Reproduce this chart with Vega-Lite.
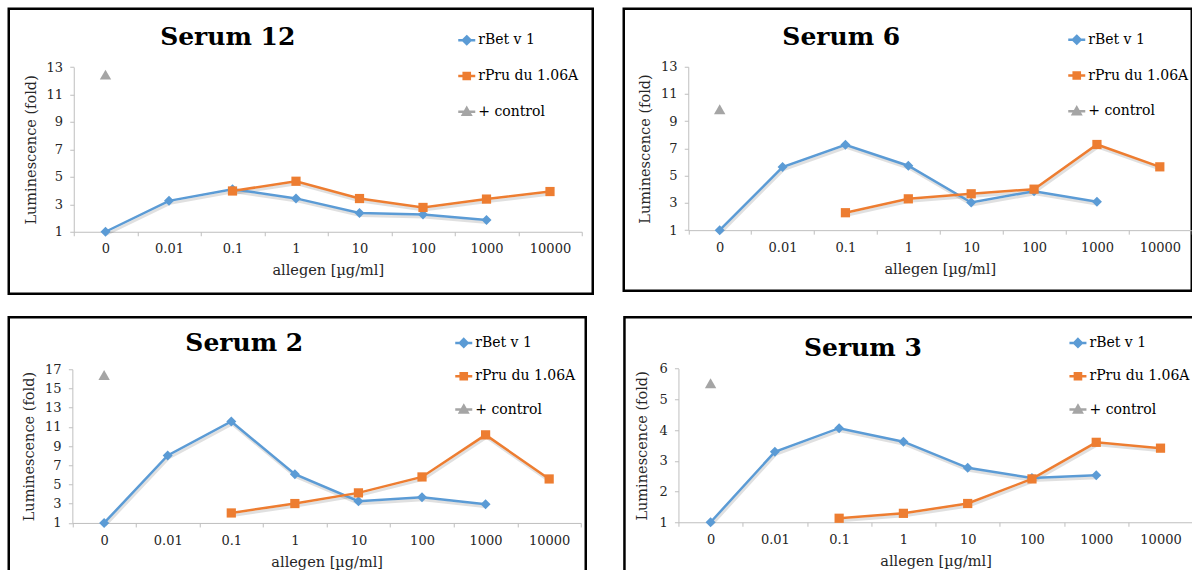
{
  "$schema": "https://vega.github.io/schema/vega-lite/v6.json",
  "background": "white",
  "padding": {"left": 6.75, "top": 6.75, "right": 0, "bottom": 0},
  "resolve": {"scale": {"color": "independent"}, "legend": {"color": "independent"}},
  "config": {
    "view": {"stroke": "#000000", "strokeWidth": 2.5},
    "font": "DejaVu Serif",
    "axis": {
      "domainColor": "#bfbfbf", "tickColor": "#bfbfbf", "domainWidth": 1, "tickWidth": 1, "tickSize": 4,
      "labelFont": "DejaVu Serif", "labelFontSize": 13, "labelColor": "#262626", "labelPadding": 7.2,
      "titleFont": "DejaVu Serif", "titleFontSize": 14.5, "titleFontWeight": "normal", "titleColor": "#262626",
      "grid": false, "labelOverlap": false, "labelBound": false, "labelFlush": false
    },
    "legend": {
      "orient": "none", "title": null, "padding": 0, "labelFont": "DejaVu Serif", "labelFontSize": 14,
      "labelColor": "#000000", "symbolSize": 289, "labelOffset": 1.5, "rowPadding": 16.8, "symbolStrokeWidth": 2.5
    },
    "title": {"font": "DejaVu Serif", "fontSize": 25, "fontWeight": "bold", "color": "#000000", "anchor": "middle", "frame": "group", "baseline": "alphabetic"}
  },
  "datasets": {
    "d": [
      {"panel": "Serum 12", "series": "rBet v 1", "conc": "0", "value": 1.0},
      {"panel": "Serum 12", "series": "rBet v 1", "conc": "0.01", "value": 3.25},
      {"panel": "Serum 12", "series": "rBet v 1", "conc": "0.1", "value": 4.1},
      {"panel": "Serum 12", "series": "rBet v 1", "conc": "1", "value": 3.43},
      {"panel": "Serum 12", "series": "rBet v 1", "conc": "10", "value": 2.36},
      {"panel": "Serum 12", "series": "rBet v 1", "conc": "100", "value": 2.26},
      {"panel": "Serum 12", "series": "rBet v 1", "conc": "1000", "value": 1.85},
      {"panel": "Serum 12", "series": "rPru du 1.06A", "conc": "0.1", "value": 3.97},
      {"panel": "Serum 12", "series": "rPru du 1.06A", "conc": "1", "value": 4.68},
      {"panel": "Serum 12", "series": "rPru du 1.06A", "conc": "10", "value": 3.42},
      {"panel": "Serum 12", "series": "rPru du 1.06A", "conc": "100", "value": 2.77},
      {"panel": "Serum 12", "series": "rPru du 1.06A", "conc": "1000", "value": 3.38},
      {"panel": "Serum 12", "series": "rPru du 1.06A", "conc": "10000", "value": 3.93},
      {"panel": "Serum 12", "series": "+ control", "conc": "0", "value": 12.45},

      {"panel": "Serum 6", "series": "rBet v 1", "conc": "0", "value": 1.0},
      {"panel": "Serum 6", "series": "rBet v 1", "conc": "0.01", "value": 5.63},
      {"panel": "Serum 6", "series": "rBet v 1", "conc": "0.1", "value": 7.27},
      {"panel": "Serum 6", "series": "rBet v 1", "conc": "1", "value": 5.73},
      {"panel": "Serum 6", "series": "rBet v 1", "conc": "10", "value": 3.03},
      {"panel": "Serum 6", "series": "rBet v 1", "conc": "100", "value": 3.86},
      {"panel": "Serum 6", "series": "rBet v 1", "conc": "1000", "value": 3.08},
      {"panel": "Serum 6", "series": "rPru du 1.06A", "conc": "0.1", "value": 2.28},
      {"panel": "Serum 6", "series": "rPru du 1.06A", "conc": "1", "value": 3.3},
      {"panel": "Serum 6", "series": "rPru du 1.06A", "conc": "10", "value": 3.67},
      {"panel": "Serum 6", "series": "rPru du 1.06A", "conc": "100", "value": 4.01},
      {"panel": "Serum 6", "series": "rPru du 1.06A", "conc": "1000", "value": 7.29},
      {"panel": "Serum 6", "series": "rPru du 1.06A", "conc": "10000", "value": 5.65},
      {"panel": "Serum 6", "series": "+ control", "conc": "0", "value": 9.88},

      {"panel": "Serum 2", "series": "rBet v 1", "conc": "0", "value": 1.0},
      {"panel": "Serum 2", "series": "rBet v 1", "conc": "0.01", "value": 8.02},
      {"panel": "Serum 2", "series": "rBet v 1", "conc": "0.1", "value": 11.56},
      {"panel": "Serum 2", "series": "rBet v 1", "conc": "1", "value": 6.07},
      {"panel": "Serum 2", "series": "rBet v 1", "conc": "10", "value": 3.26},
      {"panel": "Serum 2", "series": "rBet v 1", "conc": "100", "value": 3.68},
      {"panel": "Serum 2", "series": "rBet v 1", "conc": "1000", "value": 2.95},
      {"panel": "Serum 2", "series": "rPru du 1.06A", "conc": "0.1", "value": 2.04},
      {"panel": "Serum 2", "series": "rPru du 1.06A", "conc": "1", "value": 3.02},
      {"panel": "Serum 2", "series": "rPru du 1.06A", "conc": "10", "value": 4.13},
      {"panel": "Serum 2", "series": "rPru du 1.06A", "conc": "100", "value": 5.79},
      {"panel": "Serum 2", "series": "rPru du 1.06A", "conc": "1000", "value": 10.17},
      {"panel": "Serum 2", "series": "rPru du 1.06A", "conc": "10000", "value": 5.58},
      {"panel": "Serum 2", "series": "+ control", "conc": "0", "value": 16.4},

      {"panel": "Serum 3", "series": "rBet v 1", "conc": "0", "value": 1.0},
      {"panel": "Serum 3", "series": "rBet v 1", "conc": "0.01", "value": 3.29},
      {"panel": "Serum 3", "series": "rBet v 1", "conc": "0.1", "value": 4.06},
      {"panel": "Serum 3", "series": "rBet v 1", "conc": "1", "value": 3.62},
      {"panel": "Serum 3", "series": "rBet v 1", "conc": "10", "value": 2.77},
      {"panel": "Serum 3", "series": "rBet v 1", "conc": "100", "value": 2.44},
      {"panel": "Serum 3", "series": "rBet v 1", "conc": "1000", "value": 2.53},
      {"panel": "Serum 3", "series": "rPru du 1.06A", "conc": "0.1", "value": 1.13},
      {"panel": "Serum 3", "series": "rPru du 1.06A", "conc": "1", "value": 1.29},
      {"panel": "Serum 3", "series": "rPru du 1.06A", "conc": "10", "value": 1.61},
      {"panel": "Serum 3", "series": "rPru du 1.06A", "conc": "100", "value": 2.41},
      {"panel": "Serum 3", "series": "rPru du 1.06A", "conc": "1000", "value": 3.6},
      {"panel": "Serum 3", "series": "rPru du 1.06A", "conc": "10000", "value": 3.41},
      {"panel": "Serum 3", "series": "+ control", "conc": "0", "value": 5.52}
    ]
  },
  "vconcat": [
    {
      "resolve": {"scale": {"color": "independent"}, "legend": {"color": "independent"}},
      "hconcat": [
        {
          "width": 584, "height": 285,
          "title": {"text": "Serum 12", "dx": -73, "offset": -41},
          "data": {"name": "d"},
          "transform": [{"filter": "datum.panel === 'Serum 12'"}],
          "encoding": {
            "x": {"field": "conc", "type": "ordinal", "title": "allegen [µg/ml]",
              "scale": {"type": "band", "domain": ["0", "0.01", "0.1", "1", "10", "100", "1000", "10000"], "range": [65, 573], "paddingInner": 0, "paddingOuter": 0},
              "axis": {"offset": -62, "tickBand": "extent", "labelAngle": 0, "titlePadding": 8}},
            "y": {"field": "value", "type": "quantitative", "title": "Luminescence (fold)",
              "scale": {"domain": [1, 13], "range": [223, 58.3], "nice": false, "zero": false},
              "axis": {"offset": -65, "values": [1, 3, 5, 7, 9, 11, 13], "titlePadding": 7.5}}
          },
          "layer": [
            {"mark": {"type": "line", "color": "#000000", "opacity": 0.12, "strokeWidth": 3, "xOffset": 1, "yOffset": 2.5},
              "transform": [{"filter": "datum.series !== '+ control'"}],
              "encoding": {"detail": {"field": "series", "type": "nominal"}}},
            {"mark": {"type": "line", "strokeWidth": 2.5},
              "transform": [{"filter": "datum.series !== '+ control'"}],
              "encoding": {"color": {"field": "series", "type": "nominal",
                "scale": {"domain": ["rBet v 1", "rPru du 1.06A", "+ control"], "range": ["#5b9bd5", "#ed7d31", "#a5a5a5"]},
                "legend": {"legendX": 448, "legendY": 21.5, "rowPadding": 16.8,
                  "encode": {"symbols": {"update": {
                    "shape": {"signal": "datum.value === 'rBet v 1' ? 'M-1,0L1,0M0,-0.45L0.45,0L0,0.45L-0.45,0Z' : datum.value === 'rPru du 1.06A' ? 'M-1,0L1,0M-0.36,-0.36L0.36,-0.36L0.36,0.36L-0.36,0.36Z' : 'M-1,0L1,0M0,-0.45L0.45,0.35L-0.45,0.35Z'"},
                    "fill": {"signal": "datum.value === 'rBet v 1' ? '#5b9bd5' : datum.value === 'rPru du 1.06A' ? '#ed7d31' : '#a5a5a5'"},
                    "strokeWidth": {"value": 2.5}, "opacity": {"value": 1}}}}}}}},
            {"mark": {"type": "point", "filled": true, "opacity": 1, "shape": "diamond", "size": 100, "color": "#5b9bd5"},
              "transform": [{"filter": "datum.series === 'rBet v 1'"}], "encoding": {}},
            {"mark": {"type": "point", "filled": true, "opacity": 1, "shape": "square", "size": 85, "color": "#ed7d31"},
              "transform": [{"filter": "datum.series === 'rPru du 1.06A'"}], "encoding": {}},
            {"mark": {"type": "point", "filled": true, "opacity": 1, "shape": "triangle-up", "size": 130, "color": "#a5a5a5"},
              "transform": [{"filter": "datum.series === '+ control'"}], "encoding": {}}
          ]
        },
        {
          "width": 568, "height": 282,
          "title": {"text": "Serum 6", "dx": -66.5, "offset": -41},
          "data": {"name": "d"},
          "transform": [{"filter": "datum.panel === 'Serum 6'"}],
          "encoding": {
            "x": {"field": "conc", "type": "ordinal", "title": "allegen [µg/ml]",
              "scale": {"type": "band", "domain": ["0", "0.01", "0.1", "1", "10", "100", "1000", "10000"], "range": [64.5, 567.5], "paddingInner": 0, "paddingOuter": 0},
              "axis": {"offset": -60.6, "tickBand": "extent", "labelAngle": 0, "titlePadding": 8}},
            "y": {"field": "value", "type": "quantitative", "title": "Luminescence (fold)",
              "scale": {"domain": [1, 13], "range": [221.4, 58], "nice": false, "zero": false},
              "axis": {"offset": -64.5, "values": [1, 3, 5, 7, 9, 11, 13], "titlePadding": 8.5}}
          },
          "layer": [
            {"mark": {"type": "line", "color": "#000000", "opacity": 0.12, "strokeWidth": 3, "xOffset": 1, "yOffset": 2.5},
              "transform": [{"filter": "datum.series !== '+ control'"}],
              "encoding": {"detail": {"field": "series", "type": "nominal"}}},
            {"mark": {"type": "line", "strokeWidth": 2.5},
              "transform": [{"filter": "datum.series !== '+ control'"}],
              "encoding": {"color": {"field": "series", "type": "nominal",
                "scale": {"domain": ["rBet v 1", "rPru du 1.06A", "+ control"], "range": ["#5b9bd5", "#ed7d31", "#a5a5a5"]},
                "legend": {"legendX": 443, "legendY": 21, "rowPadding": 16.8,
                  "encode": {"symbols": {"update": {
                    "shape": {"signal": "datum.value === 'rBet v 1' ? 'M-1,0L1,0M0,-0.45L0.45,0L0,0.45L-0.45,0Z' : datum.value === 'rPru du 1.06A' ? 'M-1,0L1,0M-0.36,-0.36L0.36,-0.36L0.36,0.36L-0.36,0.36Z' : 'M-1,0L1,0M0,-0.45L0.45,0.35L-0.45,0.35Z'"},
                    "fill": {"signal": "datum.value === 'rBet v 1' ? '#5b9bd5' : datum.value === 'rPru du 1.06A' ? '#ed7d31' : '#a5a5a5'"},
                    "strokeWidth": {"value": 2.5}, "opacity": {"value": 1}}}}}}}},
            {"mark": {"type": "point", "filled": true, "opacity": 1, "shape": "diamond", "size": 100, "color": "#5b9bd5"},
              "transform": [{"filter": "datum.series === 'rBet v 1'"}], "encoding": {}},
            {"mark": {"type": "point", "filled": true, "opacity": 1, "shape": "square", "size": 85, "color": "#ed7d31"},
              "transform": [{"filter": "datum.series === 'rPru du 1.06A'"}], "encoding": {}},
            {"mark": {"type": "point", "filled": true, "opacity": 1, "shape": "triangle-up", "size": 130, "color": "#a5a5a5"},
              "transform": [{"filter": "datum.series === '+ control'"}], "encoding": {}}
          ]
        }
      ],
      "spacing": 27
    },
    {
      "resolve": {"scale": {"color": "independent"}, "legend": {"color": "independent"}},
      "hconcat": [
        {
          "width": 577, "height": 258,
          "title": {"text": "Serum 2", "dx": -53, "offset": -39},
          "data": {"name": "d"},
          "transform": [{"filter": "datum.panel === 'Serum 2'"}],
          "encoding": {
            "x": {"field": "conc", "type": "ordinal", "title": "allegen [µg/ml]",
              "scale": {"type": "band", "domain": ["0", "0.01", "0.1", "1", "10", "100", "1000", "10000"], "range": [63.6, 572.2], "paddingInner": 0, "paddingOuter": 0},
              "axis": {"offset": -52.3, "tickBand": "extent", "labelAngle": 0, "titlePadding": 8}},
            "y": {"field": "value", "type": "quantitative", "title": "Luminescence (fold)",
              "scale": {"domain": [1, 17], "range": [205.7, 52], "nice": false, "zero": false},
              "axis": {"offset": -63.6, "values": [1, 3, 5, 7, 9, 11, 13, 15, 17], "titlePadding": 8.5}}
          },
          "layer": [
            {"mark": {"type": "line", "color": "#000000", "opacity": 0.12, "strokeWidth": 3, "xOffset": 1, "yOffset": 2.5},
              "transform": [{"filter": "datum.series !== '+ control'"}],
              "encoding": {"detail": {"field": "series", "type": "nominal"}}},
            {"mark": {"type": "line", "strokeWidth": 2.5},
              "transform": [{"filter": "datum.series !== '+ control'"}],
              "encoding": {"color": {"field": "series", "type": "nominal",
                "scale": {"domain": ["rBet v 1", "rPru du 1.06A", "+ control"], "range": ["#5b9bd5", "#ed7d31", "#a5a5a5"]},
                "legend": {"legendX": 445, "legendY": 15.7, "rowPadding": 14.3,
                  "encode": {"symbols": {"update": {
                    "shape": {"signal": "datum.value === 'rBet v 1' ? 'M-1,0L1,0M0,-0.45L0.45,0L0,0.45L-0.45,0Z' : datum.value === 'rPru du 1.06A' ? 'M-1,0L1,0M-0.36,-0.36L0.36,-0.36L0.36,0.36L-0.36,0.36Z' : 'M-1,0L1,0M0,-0.45L0.45,0.35L-0.45,0.35Z'"},
                    "fill": {"signal": "datum.value === 'rBet v 1' ? '#5b9bd5' : datum.value === 'rPru du 1.06A' ? '#ed7d31' : '#a5a5a5'"},
                    "strokeWidth": {"value": 2.5}, "opacity": {"value": 1}}}}}}}},
            {"mark": {"type": "point", "filled": true, "opacity": 1, "shape": "diamond", "size": 100, "color": "#5b9bd5"},
              "transform": [{"filter": "datum.series === 'rBet v 1'"}], "encoding": {}},
            {"mark": {"type": "point", "filled": true, "opacity": 1, "shape": "square", "size": 85, "color": "#ed7d31"},
              "transform": [{"filter": "datum.series === 'rPru du 1.06A'"}], "encoding": {}},
            {"mark": {"type": "point", "filled": true, "opacity": 1, "shape": "triangle-up", "size": 130, "color": "#a5a5a5"},
              "transform": [{"filter": "datum.series === '+ control'"}], "encoding": {}}
          ]
        },
        {
          "width": 590, "height": 258,
          "title": {"text": "Serum 3", "dx": -56.6, "offset": -44},
          "data": {"name": "d"},
          "transform": [{"filter": "datum.panel === 'Serum 3'"}],
          "encoding": {
            "x": {"field": "conc", "type": "ordinal", "title": "allegen [µg/ml]",
              "scale": {"type": "band", "domain": ["0", "0.01", "0.1", "1", "10", "100", "1000", "10000"], "range": [54, 568.2], "paddingInner": 0, "paddingOuter": 0},
              "axis": {"offset": -53, "tickBand": "extent", "labelAngle": 0, "titlePadding": 8}},
            "y": {"field": "value", "type": "quantitative", "title": "Luminescence (fold)",
              "scale": {"domain": [1, 6], "range": [205, 51.3], "nice": false, "zero": false},
              "axis": {"offset": -54, "values": [1, 2, 3, 4, 5, 6], "titlePadding": 9.5}}
          },
          "layer": [
            {"mark": {"type": "line", "color": "#000000", "opacity": 0.12, "strokeWidth": 3, "xOffset": 1, "yOffset": 2.5},
              "transform": [{"filter": "datum.series !== '+ control'"}],
              "encoding": {"detail": {"field": "series", "type": "nominal"}}},
            {"mark": {"type": "line", "strokeWidth": 2.5},
              "transform": [{"filter": "datum.series !== '+ control'"}],
              "encoding": {"color": {"field": "series", "type": "nominal",
                "scale": {"domain": ["rBet v 1", "rPru du 1.06A", "+ control"], "range": ["#5b9bd5", "#ed7d31", "#a5a5a5"]},
                "legend": {"legendX": 443.5, "legendY": 15.7, "rowPadding": 14.3,
                  "encode": {"symbols": {"update": {
                    "shape": {"signal": "datum.value === 'rBet v 1' ? 'M-1,0L1,0M0,-0.45L0.45,0L0,0.45L-0.45,0Z' : datum.value === 'rPru du 1.06A' ? 'M-1,0L1,0M-0.36,-0.36L0.36,-0.36L0.36,0.36L-0.36,0.36Z' : 'M-1,0L1,0M0,-0.45L0.45,0.35L-0.45,0.35Z'"},
                    "fill": {"signal": "datum.value === 'rBet v 1' ? '#5b9bd5' : datum.value === 'rPru du 1.06A' ? '#ed7d31' : '#a5a5a5'"},
                    "strokeWidth": {"value": 2.5}, "opacity": {"value": 1}}}}}}}},
            {"mark": {"type": "point", "filled": true, "opacity": 1, "shape": "diamond", "size": 100, "color": "#5b9bd5"},
              "transform": [{"filter": "datum.series === 'rBet v 1'"}], "encoding": {}},
            {"mark": {"type": "point", "filled": true, "opacity": 1, "shape": "square", "size": 85, "color": "#ed7d31"},
              "transform": [{"filter": "datum.series === 'rPru du 1.06A'"}], "encoding": {}},
            {"mark": {"type": "point", "filled": true, "opacity": 1, "shape": "triangle-up", "size": 130, "color": "#a5a5a5"},
              "transform": [{"filter": "datum.series === '+ control'"}], "encoding": {}}
          ]
        }
      ],
      "spacing": 34.7
    }
  ],
  "spacing": 19.5
}
